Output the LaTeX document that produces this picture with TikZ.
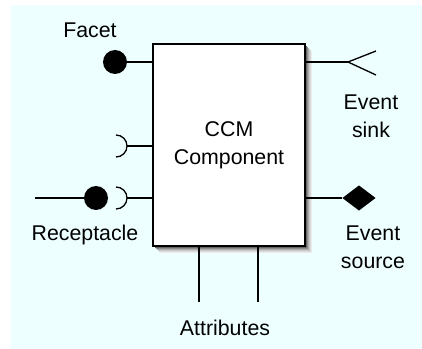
\documentclass[tikz,border=0pt]{standalone}
\usepackage{fontspec}
\setmainfont{Liberation Sans}
\usepackage{tikz}
\usetikzlibrary{shapes.geometric}
\definecolor{bgcyan}{RGB}{238,255,255}

\tikzset{
  lbl/.style={font=\fontsize{16}{21}\selectfont, align=center, inner sep=0pt},
  ball/.style={circle, fill=black, inner sep=0pt, minimum size=18pt},
  wire/.style={line width=1pt},
}

\begin{document}
\begin{tikzpicture}[x=0.75pt, y=-0.75pt]
                \useasboundingbox (0,0) rectangle (422,349);
                \fill[bgcyan] (11,5) rectangle (422,349);

                % shadow of the component
                \foreach \d/\g in {7/8, 6/14, 5/22, 4/32, 3/45, 2/60}
                    \fill[black!\g] (153+\d,44+\d) rectangle (305+\d,246+\d);
                \node[draw, fill=white, line width=1.2pt, minimum width=114pt, minimum height=151.5pt,
                      lbl] (comp) at (229,145) {CCM\\Component};

                % facet
                \node[ball] (fct) at (115,62) {};
                \draw[wire] (fct) -- (fct -| comp.west);
                \node[lbl] (fctlbl) at (90,30) {Facet};

                % socket
                \coordinate (sock) at (127,146);
                \draw[wire] (116,135) arc (-90:90:11);
                \draw[wire] (sock) -- (sock -| comp.west);

                % receptacle
                \coordinate (rcp0) at (35,198);
                \node[ball] (rcp) at (96,198) {};
                \coordinate (rcps) at (127,198);
                \draw[wire] (rcp0) -- (rcp);
                \draw[wire] (116,187) arc (-90:90:11);
                \draw[wire] (rcps) -- (rcps -| comp.west);
                \node[lbl] (rcplbl) at (85,235) {Receptacle};

                % event sink
                \coordinate (snk) at (348,62);
                \coordinate (snka) at (376,51);
                \coordinate (snkb) at (376,75);
                \draw[wire] (snk -| comp.east) -- (snk);
                \draw[wire] (snka) -- (snk) -- (snkb);
                \node[lbl] (snklbl) at (371,116) {Event\\sink};

                % event source
                \node[diamond, fill=black, inner sep=0pt, minimum width=25pt, minimum height=19pt,
                      aspect=1.3] (src) at (359,198) {};
                \draw[wire] (src -| comp.east) -- (src);
                \node[lbl] (srclbl) at (373,247) {Event\\source};

                % attributes
                \coordinate (att1) at (199,302);
                \coordinate (att2) at (258,302);
                \draw[wire] (att1 |- comp.south) -- (att1);
                \draw[wire] (att2 |- comp.south) -- (att2);
                \node[lbl] (attlbl) at (225,328) {Attributes};
            \end{tikzpicture}
\end{document}
